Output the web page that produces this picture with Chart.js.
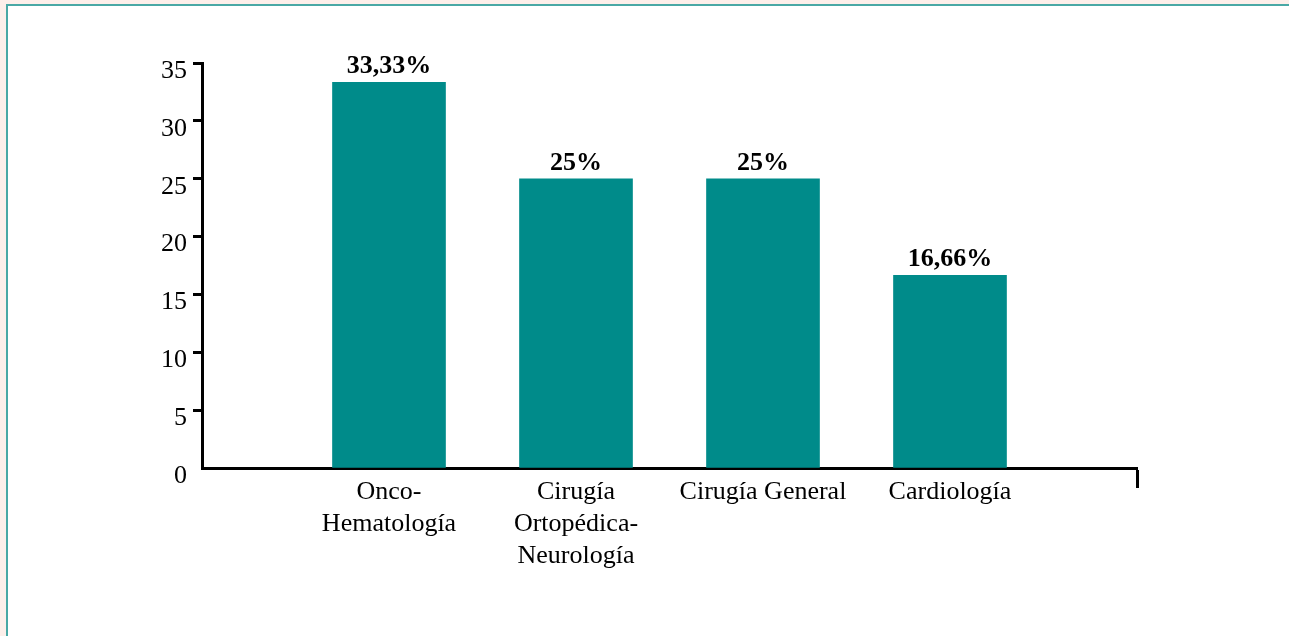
<!DOCTYPE html>
<html>
<head>
<meta charset="utf-8">
<script src="https://cdn.jsdelivr.net/npm/chart.js@4"></script>
<style>
  html, body { margin: 0; padding: 0; overflow: hidden; background: #fdefea; }
  #frame {
    position: absolute; left: 6px; top: 4px; right: -10px; bottom: -10px;
    background: #fff; border-left: 2px solid #4aa8a5; border-top: 2px solid #4aa8a5;
  }
  #myChart { position: absolute; left: 0; top: 0; }
</style>
</head>
<body>
<div id="frame"></div>
<canvas id="myChart" width="1289" height="636"></canvas>
<script>
const categories = [
    ['Onco-', 'Hematología'],
    ['Cirugía', 'Ortopédica-', 'Neurología'],
    'Cirugía General',
    'Cardiología'
];
const values = [33.33, 25, 25, 16.66];
const yTicks = [0, 5, 10, 15, 20, 25, 30, 35];

// empty slot at each end so the bars sit on the axis divisions
const labels = [''].concat(categories, ['']);
const data = [null].concat(values, [null]);

const serif = '"Liberation Serif", "DejaVu Serif", serif';

const valueLabels = {
    id: 'valueLabels',
    afterDatasetsDraw(chart) {
        const ctx = chart.ctx;
        const meta = chart.getDatasetMeta(0);
        ctx.save();
        ctx.font = 'bold 26px ' + serif;
        ctx.fillStyle = '#000';
        ctx.textAlign = 'center';
        ctx.textBaseline = 'alphabetic';
        meta.data.forEach(function(bar, i) {
            const v = data[i];
            if (v === null) return;
            ctx.fillText(String(v).replace('.', ',') + '%', bar.x, bar.y - 9);
        });
        ctx.restore();
    }
};

const ctx = document.getElementById('myChart').getContext('2d');
const myChart = new Chart(ctx, {
    type: 'bar',
    data: {
        labels: labels,
        datasets: [{
            data: data,
            backgroundColor: '#008b8a',
            barThickness: 113
        }]
    },
    plugins: [valueLabels],
    options: {
        responsive: false,
        animation: false,
        layout: { padding: { top: 63, right: 152, left: 0, bottom: 0 } },
        plugins: {
            legend: { display: false },
            tooltip: { enabled: false }
        },
        scales: {
            x: {
                offset: false,
                afterFit: function(scale) { scale.height = 168; },
                border: { display: true, color: '#000', width: 3 },
                grid: {
                    offset: false,
                    drawOnChartArea: false,
                    tickLength: 20,
                    tickWidth: 3,
                    tickColor: function(c) { return c.index === labels.length - 1 ? '#000' : 'rgba(0,0,0,0)'; }
                },
                ticks: {
                    autoSkip: false,
                    maxRotation: 0,
                    padding: -12,
                    color: '#000',
                    font: { family: serif, size: 26, lineHeight: 1.23 }
                }
            },
            y: {
                min: 0,
                max: 35,
                afterFit: function(scale) { scale.width = 202; },
                afterBuildTicks: function(scale) {
                    scale.ticks = yTicks.map(function(v) { return { value: v }; });
                },
                border: { display: true, color: '#000', width: 3 },
                grid: {
                    drawOnChartArea: false,
                    tickLength: 9,
                    tickWidth: 3,
                    tickColor: function(c) { return c.tick && c.tick.value === 0 ? 'rgba(0,0,0,0)' : '#000'; }
                },
                ticks: {
                    padding: 6,
                    labelOffset: 8,
                    color: '#000',
                    font: { family: serif, size: 26 }
                }
            }
        }
    }
});
</script>
</body>
</html>
